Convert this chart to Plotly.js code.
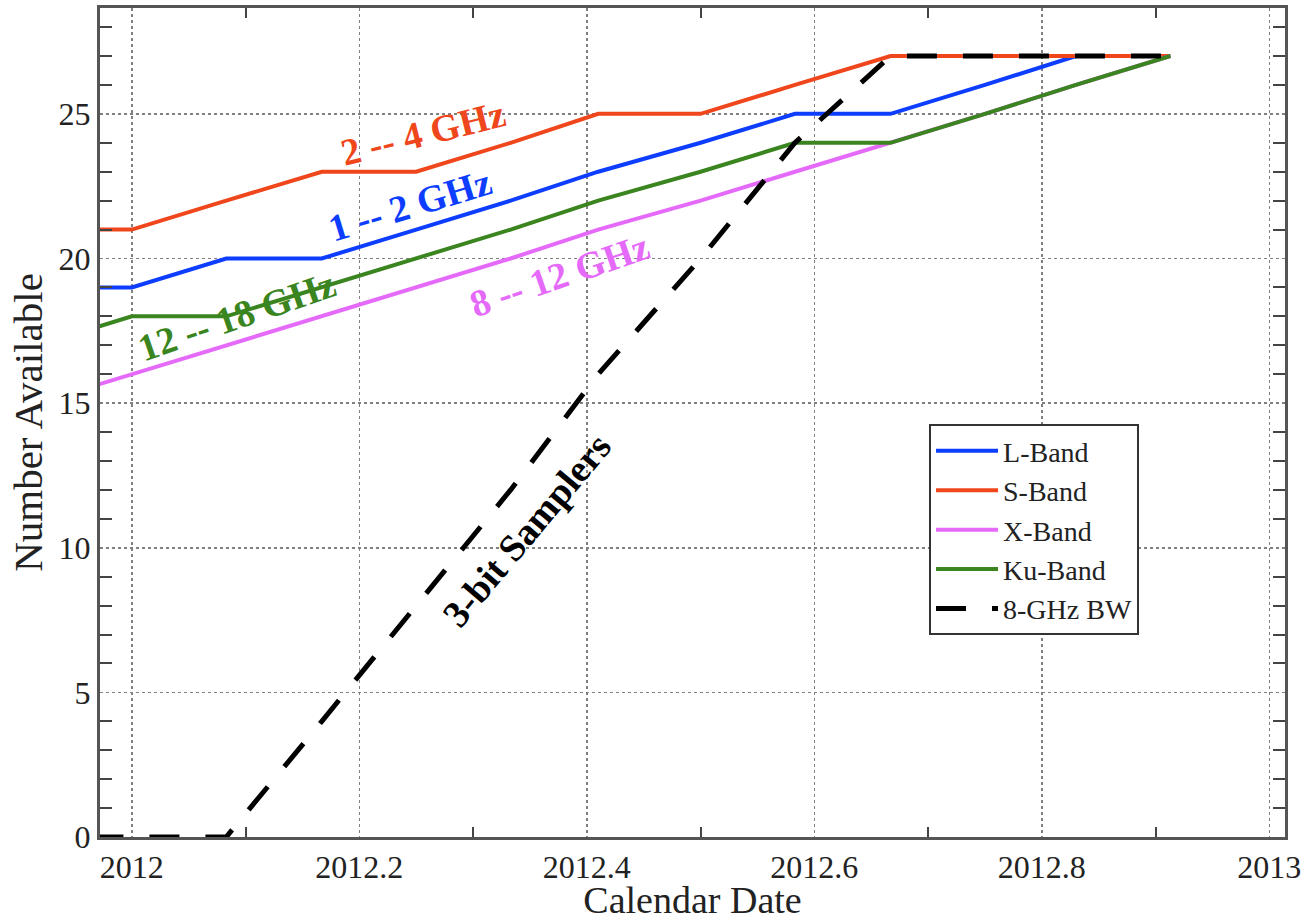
<!DOCTYPE html>
<html>
<head>
<meta charset="utf-8">
<script src="https://cdn.plot.ly/plotly-3.0.1.min.js"></script>
<style>html,body{margin:0;padding:0;background:#fff;}#chart{width:1308px;height:921px;}</style>
</head>
<body>
<div id="chart"></div>
<script>
// Calendar date (fractional year), roughly monthly
const dates = [2011.917, 2012.0, 2012.083, 2012.167, 2012.25, 2012.333, 2012.41, 2012.5, 2012.583, 2012.667, 2012.75, 2012.83, 2012.913];
const lBand = [19, 19, 20, 20, 21, 22, 23, 24, 25, 25, 26, 27, 27];
const sBand = [21, 21, 22, 23, 23, 24, 25, 25, 26, 27, 27, 27, 27];
const xBand = [15, 16, 17, 18, 19, 20, 21, 22, 23, 24, 25, 26, 27];
const kuBand = [17, 18, 18, 19, 20, 21, 22, 23, 24, 24, 25, 26, 27];
const bw8 = [0, 0, 0, 4, 8, 12, 16, 20, 24, 27, 27, 27, 27];

const seriesNames = ['L-Band', 'S-Band', 'X-Band', 'Ku-Band', '8-GHz BW'];
const xTickStart = 2012, xTickStep = 0.2, xMinorStep = 0.1;
const yTickStep = 5, yMinorStep = 1;
const xRange = [2011.972, 2013.0138];
const yRange = [0, 28.66];

const colors = {L: '#0d3dff', S: '#f0461c', X: '#e56af9', Ku: '#3a8520', BW: '#000000'};
const serif = '"Liberation Serif", "Times New Roman", Times, serif';

// minor tick positions (between the labelled ticks)
function minorVals(start, step, major, lo, hi) {
  const out = [];
  for (let i = Math.ceil((lo - start) / step); start + i * step <= hi; i++) {
    const v = +(start + i * step).toFixed(6);
    const r = Math.abs(v / major - Math.round(v / major));
    if (r > 1e-6) out.push(v);
  }
  return out;
}
const xMinorVals = minorVals(xTickStart, xMinorStep, xTickStep, xRange[0], xRange[1]);
const yMinorVals = minorVals(0, yMinorStep, yTickStep, yRange[0], yRange[1]);

const traces = [
  {x: dates, y: lBand, name: seriesNames[0], mode: 'lines', line: {color: colors.L, width: 4}},
  {x: dates, y: sBand, name: seriesNames[1], mode: 'lines', line: {color: colors.S, width: 4}},
  {x: dates, y: xBand, name: seriesNames[2], mode: 'lines', line: {color: colors.X, width: 4}},
  {x: dates, y: kuBand, name: seriesNames[3], mode: 'lines', line: {color: colors.Ku, width: 4}},
  {x: dates, y: bw8, name: seriesNames[4], mode: 'lines', line: {color: colors.BW, width: 5, dash: '30px,26px'}}
];
// invisible helper traces so the tick-only overlay axes are drawn
const helper = (xa, ya) => ({x: xRange, y: yRange, xaxis: xa, yaxis: ya, mode: 'lines', line: {width: 0}, opacity: 0, showlegend: false, hoverinfo: 'skip'});
traces.push(helper('x2', 'y2'), helper('x3', 'y3'));

const annos = [
  {text: '<b>2 -- 4 GHz</b>', x: 2012.2558, y: 24.35, angle: -14, color: colors.S},
  {text: '<b>1 -- 2 GHz</b>', x: 2012.2444, y: 21.86, angle: -17, color: colors.L},
  {text: '<b>12 -- 18 GHz</b>', x: 2012.0923, y: 18.0, angle: -19, color: colors.Ku},
  {text: '<b>8 -- 12 GHz</b>', x: 2012.3763, y: 19.44, angle: -19, color: colors.X},
  {text: '<b>3-bit Samplers</b>', x: 2012.3473, y: 10.61, angle: -50, color: '#000'}
].map(a => ({
  text: a.text, x: a.x, y: a.y, xref: 'x', yref: 'y', showarrow: false,
  textangle: a.angle, xanchor: 'center', yanchor: 'middle',
  font: {family: serif, size: 38, color: a.color}
}));

function tickAxis(extra) {
  return Object.assign({
    showline: false, showgrid: false, zeroline: false, showticklabels: false,
    tickmode: 'array', ticks: 'inside', tickwidth: 2, tickcolor: '#444'
  }, extra);
}

const layout = {
  width: 1308, height: 921,
  margin: {l: 100, r: 23, t: 8, b: 84},
  paper_bgcolor: '#fff', plot_bgcolor: '#fff',
  font: {family: serif},
  separators: '.',
  showlegend: true,
  xaxis: {
    range: xRange, showline: true, linecolor: '#555', linewidth: 3, mirror: true,
    showgrid: true, gridcolor: '#808080', gridwidth: 1.5, griddash: 'dot', zeroline: false,
    tickmode: 'linear', tick0: xTickStart, dtick: xTickStep, tickformat: '.1~f', ticks: '',
    tickfont: {family: serif, size: 32, color: '#222'},
    title: {text: 'Calendar Date', font: {family: serif, size: 38, color: '#222'}, standoff: 13}
  },
  yaxis: {
    range: yRange, showline: true, linecolor: '#555', linewidth: 3, mirror: true,
    showgrid: true, gridcolor: '#808080', gridwidth: 1.5, griddash: 'dot', zeroline: false,
    tickmode: 'linear', tick0: 0, dtick: yTickStep, ticks: '',
    tickfont: {family: serif, size: 32, color: '#222'},
    title: {text: 'Number Available', font: {family: serif, size: 41, color: '#222'}, standoff: 4}
  },
  xaxis2: tickAxis({overlaying: 'x', side: 'bottom', range: xRange, tickvals: xMinorVals, ticklen: 10}),
  yaxis2: tickAxis({overlaying: 'y', side: 'left', range: yRange, tickvals: yMinorVals, ticklen: 12}),
  xaxis3: tickAxis({overlaying: 'x', side: 'top', range: xRange, tickvals: xMinorVals, ticklen: 10}),
  yaxis3: tickAxis({overlaying: 'y', side: 'right', range: yRange, tickvals: yMinorVals, ticklen: 12}),
  legend: {
    x: 0.6996, y: 0.498, xanchor: 'left', yanchor: 'top',
    bgcolor: '#fff', bordercolor: '#333', borderwidth: 2,
    font: {family: serif, size: 28, color: '#222'},
    itemwidth: 62, tracegroupgap: 0
  },
  annotations: annos
};

Plotly.newPlot('chart', traces, layout, {displayModeBar: false, staticPlot: true});
</script>
</body>
</html>
